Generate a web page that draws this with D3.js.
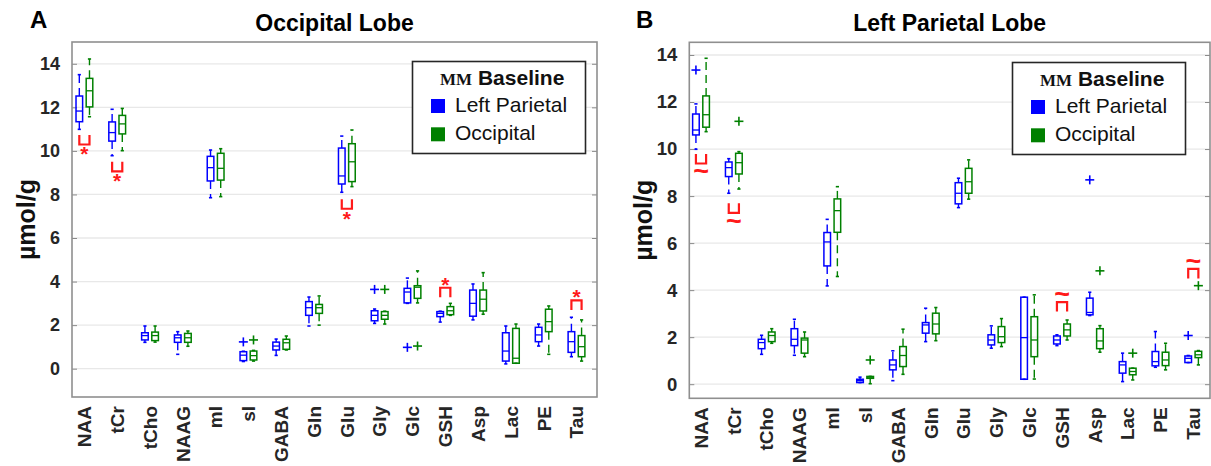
<!DOCTYPE html>
<html>
<head>
<meta charset="utf-8">
<script src="https://cdn.jsdelivr.net/npm/d3@7/dist/d3.min.js"></script>
<style>
  body { margin: 0; background: #fff; }
  svg { display: block; }
</style>
</head>
<body>
<svg id="chart" width="1211" height="466"></svg>
<script>
// Metabolite names along the x axis
const categories = ["NAA", "tCr", "tCho", "NAAG", "mI", "sI", "GABA", "Gln", "Glu",
                    "Gly", "Glc", "GSH", "Asp", "Lac", "PE", "Tau"];
const yTicks = [0, 2, 4, 6, 8, 10, 12, 14];
const seriesNames = ["Left Parietal", "Occipital"];

// Box statistics per metabolite: [lower whisker, Q1, median, Q3, upper whisker]
// Panel A: occipital lobe data, quantified with each macromolecule baseline
const occipitalWithLP = [
  [10.99, 11.34, 11.83, 12.52, 13.50],
  [9.78, 10.45, 10.84, 11.33, 11.91],
  [1.21, 1.32, 1.52, 1.65, 1.96],
  [0.66, 1.21, 1.42, 1.55, 1.70],
  [7.85, 8.62, 9.23, 9.75, 10.04],
  [0.33, 0.37, 0.62, 0.78, 0.80],
  [0.61, 0.86, 1.04, 1.22, 1.36],
  [1.96, 2.45, 2.80, 3.08, 3.29],
  [8.10, 8.48, 8.85, 10.13, 10.68],
  [2.08, 2.20, 2.45, 2.66, 2.74],
  [3.00, 3.02, 3.52, 3.69, 4.16],
  [2.14, 2.39, 2.54, 2.62, 2.64],
  [2.24, 2.41, 3.00, 3.61, 3.89],
  [0.22, 0.35, 0.81, 1.65, 1.96],
  [1.04, 1.24, 1.55, 1.90, 2.05],
  [0.55, 0.75, 1.24, 1.70, 2.36]
];
const occipitalWithOcc = [
  [11.57, 12.02, 12.76, 13.33, 14.22],
  [10.01, 10.78, 11.24, 11.63, 11.95],
  [1.22, 1.29, 1.52, 1.68, 1.96],
  [1.03, 1.21, 1.42, 1.62, 1.73],
  [7.90, 8.66, 9.20, 9.89, 10.10],
  [0.35, 0.40, 0.60, 0.81, 0.84],
  [0.86, 0.89, 1.19, 1.35, 1.50],
  [2.00, 2.54, 2.80, 2.95, 3.34],
  [8.36, 8.59, 9.50, 10.33, 10.96],
  [2.05, 2.27, 2.45, 2.62, 2.64],
  [3.02, 3.23, 3.74, 3.81, 4.49],
  [2.45, 2.48, 2.66, 2.85, 3.00],
  [2.50, 2.65, 3.19, 3.61, 4.41],
  [0.25, 0.25, 0.48, 1.85, 2.05],
  [0.66, 1.70, 2.16, 2.73, 2.88],
  [0.35, 0.55, 1.01, 1.52, 2.24]
];
// Outliers: [category index, value]
const occipitalOutliersLP = [[5, 1.23], [9, 3.64], [10, 0.98]];
const occipitalOutliersOcc = [[5, 1.32], [9, 3.64], [10, 1.04]];
// Significance markers: [category index, side, symbol, level]
const occipitalMarks = [
  [0, "below", "*", 10.73],
  [1, "below", "*", 9.50],
  [8, "below", "*", 7.78],
  [11, "above", "*", 3.28],
  [15, "above", "*", 2.70]
];

// Panel B: left parietal lobe data
const parietalWithLP = [
  [9.99, 10.60, 10.81, 11.49, 11.92],
  [8.12, 8.83, 9.21, 9.45, 9.59],
  [1.27, 1.51, 1.77, 1.91, 2.08],
  [1.23, 1.64, 1.91, 2.36, 2.76],
  [4.18, 5.03, 6.05, 6.45, 7.01],
  [0.07, 0.07, 0.15, 0.21, 0.30],
  [0.15, 0.61, 0.82, 1.03, 1.42],
  [1.81, 2.17, 2.52, 2.62, 3.23],
  [7.51, 7.67, 8.12, 8.57, 8.76],
  [1.53, 1.67, 1.88, 2.10, 2.48],
  [0.21, 0.21, 1.98, 3.70, 3.70],
  [1.64, 1.71, 1.88, 2.05, 2.10],
  [2.92, 2.95, 3.05, 3.66, 3.91],
  [0.11, 0.47, 0.82, 0.96, 1.32],
  [0.72, 0.78, 0.96, 1.39, 2.24],
  [0.92, 0.92, 1.10, 1.20, 1.22]
];
const parietalWithOcc = [
  [10.74, 10.93, 11.46, 12.26, 13.86],
  [8.30, 8.94, 9.42, 9.82, 9.89],
  [1.74, 1.81, 2.07, 2.22, 2.36],
  [1.17, 1.32, 1.88, 1.96, 2.22],
  [4.58, 6.46, 7.38, 7.88, 8.40],
  [0.02, 0.25, 0.30, 0.33, 0.33],
  [0.42, 0.75, 1.22, 1.60, 2.34],
  [1.85, 2.14, 2.56, 3.02, 3.26],
  [7.87, 8.12, 8.61, 9.18, 9.54],
  [1.60, 1.77, 2.02, 2.45, 2.79],
  [0.22, 1.17, 1.88, 2.87, 3.80],
  [1.88, 2.05, 2.31, 2.56, 2.73],
  [1.36, 1.51, 1.84, 2.36, 2.49],
  [0.18, 0.40, 0.54, 0.68, 0.68],
  [0.61, 0.79, 1.03, 1.36, 1.74],
  [0.82, 1.13, 1.25, 1.40, 1.43]
];
const parietalOutliersLP = [[0, 13.36], [12, 8.69], [15, 2.07]];
const parietalOutliersOcc = [[1, 11.18], [5, 1.03], [12, 4.82], [13, 1.32], [15, 4.19]];
const parietalMarks = [
  [0, "below", "~", 9.79],
  [1, "below", "~", 7.69],
  [11, "above", "~", 3.09],
  [15, "above", "~", 4.50]
];

const BLUE = "#0000ff";
const GREEN = "#008000";
const RED = "#ff1a1a";
const TEXT = "#262626";
const FONT = "'Liberation Sans', Arial, Helvetica, sans-serif";

const svg = d3.select("#chart");

function drawPanel(cfg) {
  const g = svg.append("g");
  const x = d3.scaleLinear().domain(cfg.xDomain).range([cfg.left, cfg.right]);
  const y = d3.scaleLinear().domain(cfg.yDomain).range([cfg.bottom, cfg.top]);
  const offset = 0.155;   // half distance between the paired boxes (category units)
  const halfBox = 3.3;    // px
  const halfCap = 1.6;    // px

  // grid lines
  g.append("g").selectAll("line").data(yTicks).join("line")
    .attr("x1", cfg.left).attr("x2", cfg.right)
    .attr("y1", d => y(d)).attr("y2", d => y(d))
    .attr("stroke", "#e8e8e8").attr("stroke-width", 1.3);

  // y axis (left) with inward ticks
  const axL = g.append("g").attr("transform", `translate(${cfg.left},0)`)
    .call(d3.axisLeft(y).tickValues(yTicks).tickSize(-5).tickPadding(12));
  axL.select(".domain").remove();
  axL.selectAll(".tick line").attr("stroke", "#8a8a8a").attr("stroke-width", 1);
  axL.selectAll(".tick text")
    .attr("font-family", FONT).attr("font-weight", "bold")
    .attr("font-size", cfg.tickFont).attr("fill", TEXT);

  // right-side inward ticks
  const axR = g.append("g").attr("transform", `translate(${cfg.right},0)`)
    .call(d3.axisRight(y).tickValues(yTicks).tickSize(-5).tickFormat(""));
  axR.select(".domain").remove();
  axR.selectAll(".tick line").attr("stroke", "#8a8a8a").attr("stroke-width", 1);

  // x category labels (rotated)
  const fx = cfg.xFont;
  g.append("g").selectAll("text").data(categories).join("text")
    .attr("transform", (d, i) => `translate(${x(i) + fx * 0.36},${cfg.bottom + 9}) rotate(-90)`)
    .attr("text-anchor", "end")
    .attr("font-family", FONT).attr("font-weight", "bold")
    .attr("font-size", fx).attr("fill", TEXT)
    .text(d => d);

  // box plots
  const groups = [
    { stats: cfg.lp, outliers: cfg.lpOut, color: BLUE, dx: -offset },
    { stats: cfg.occ, outliers: cfg.occOut, color: GREEN, dx: offset }
  ];
  groups.forEach(s => {
    const bg = g.append("g").attr("stroke", s.color).attr("fill", "none");
    const items = bg.selectAll("g.box").data(s.stats).join("g").attr("class", "box");
    const cx = (d, i) => x(i + s.dx);
    // whiskers
    items.append("line")
      .attr("x1", cx).attr("x2", cx)
      .attr("y1", d => y(d[3])).attr("y2", d => y(d[4]))
      .attr("stroke-width", 1.4).attr("stroke-dasharray", "8,5");
    items.append("line")
      .attr("x1", cx).attr("x2", cx)
      .attr("y1", d => y(d[1])).attr("y2", d => y(d[0]))
      .attr("stroke-width", 1.4).attr("stroke-dasharray", "8,5");
    // caps
    [0, 4].forEach(k => {
      items.append("line")
        .attr("x1", (d, i) => cx(d, i) - halfCap).attr("x2", (d, i) => cx(d, i) + halfCap)
        .attr("y1", d => y(d[k])).attr("y2", d => y(d[k]))
        .attr("stroke-width", 1.6);
    });
    // box
    items.append("rect")
      .attr("x", (d, i) => cx(d, i) - halfBox)
      .attr("width", halfBox * 2)
      .attr("y", d => y(d[3]))
      .attr("height", d => Math.max(0.5, y(d[1]) - y(d[3])))
      .attr("stroke-width", 1.5);
    // median
    items.append("line")
      .attr("x1", (d, i) => cx(d, i) - halfBox).attr("x2", (d, i) => cx(d, i) + halfBox)
      .attr("y1", d => y(d[2])).attr("y2", d => y(d[2]))
      .attr("stroke-width", 1.3);
    // outliers
    const o = bg.selectAll("g.out").data(s.outliers).join("g").attr("class", "out")
      .attr("transform", d => `translate(${x(d[0] + s.dx)},${y(d[1])})`);
    o.append("line").attr("x1", -4.5).attr("x2", 4.5).attr("stroke-width", 1.6);
    o.append("line").attr("y1", -4.5).attr("y2", 4.5).attr("stroke-width", 1.6);
  });

  // significance brackets
  const legLen = 9.5;
  cfg.marks.forEach(m => {
    const [i, side, sym, level] = m;
    const x1 = x(i - offset), x2 = x(i + offset);
    const y0 = y(level);
    const dir = side === "below" ? 1 : -1;
    const y1 = y0 + dir * legLen;
    g.append("path")
      .attr("d", `M${x1},${y0}V${y1}H${x2}V${y0}`)
      .attr("fill", "none").attr("stroke", RED).attr("stroke-width", 2.2);
    const symC = y1 + dir * (sym === "*" ? 6.5 : 8);
    const fs = sym === "*" ? 21 : 27;
    const lift = sym === "*" ? 0.5 * fs : 0.33 * fs;
    g.append("text")
      .attr("x", (x1 + x2) / 2).attr("y", symC + lift)
      .attr("text-anchor", "middle")
      .attr("font-family", FONT).attr("font-weight", "bold")
      .attr("font-size", fs).attr("fill", RED)
      .text(sym);
  });

  // frame
  g.append("rect")
    .attr("x", cfg.left).attr("y", cfg.top)
    .attr("width", cfg.right - cfg.left).attr("height", cfg.bottom - cfg.top)
    .attr("fill", "none").attr("stroke", "#8f8f8f").attr("stroke-width", 1.6);

  // legend
  const lg = g.append("g").attr("transform", `translate(${cfg.legendX},${cfg.legendY})`);
  lg.append("rect").attr("width", 173).attr("height", 92)
    .attr("fill", "#fff").attr("stroke", "#262626").attr("stroke-width", 1.6);
  const lt = lg.append("text").attr("x", 27.5).attr("y", 23.5)
    .attr("font-family", FONT).attr("font-weight", "bold").attr("fill", "#111");
  lt.append("tspan").attr("font-family", "'Liberation Serif', 'DejaVu Serif', serif")
    .attr("font-size", 17).text("MM");
  lt.append("tspan").attr("font-size", 21).text(" Baseline");
  [BLUE, GREEN].forEach((c, k) => {
    lg.append("rect").attr("x", 18.5).attr("y", 37.5 + k * 28.3)
      .attr("width", 14).attr("height", 14).attr("fill", c);
    lg.append("text").attr("x", 42.5).attr("y", 50.5 + k * 28.3)
      .attr("font-family", FONT).attr("font-size", 21).attr("fill", "#111")
      .text(seriesNames[k]);
  });

  // y label
  g.append("text")
    .attr("transform", `translate(${cfg.ylabelX},${(cfg.top + cfg.bottom) / 2}) rotate(-90)`)
    .attr("text-anchor", "middle")
    .attr("font-family", FONT).attr("font-weight", "bold")
    .attr("font-size", 25).attr("fill", "#111")
    .text("µmol/g");

  // title and panel letter
  g.append("text")
    .attr("x", (cfg.left + cfg.right) / 2).attr("y", 31)
    .attr("text-anchor", "middle")
    .attr("font-family", FONT).attr("font-weight", "bold")
    .attr("font-size", 23).attr("fill", "#000")
    .text(cfg.title);
  g.append("text")
    .attr("x", cfg.letterX).attr("y", 28)
    .attr("font-family", FONT).attr("font-weight", "bold")
    .attr("font-size", 24).attr("fill", "#000")
    .text(cfg.letter);
}

drawPanel({
  letter: "A", letterX: 30, title: "Occipital Lobe",
  left: 72, right: 597, top: 42, bottom: 397,
  xDomain: [-0.378, 15.625], yDomain: [-1.3, 15],
  tickFont: 18, xFont: 19, ylabelX: 35,
  lp: occipitalWithLP, occ: occipitalWithOcc,
  lpOut: occipitalOutliersLP, occOut: occipitalOutliersOcc,
  marks: occipitalMarks,
  legendX: 412.5, legendY: 61.5
});

drawPanel({
  letter: "B", letterX: 636, title: "Left Parietal Lobe",
  left: 689.3, right: 1210, top: 42.3, bottom: 398.3,
  xDomain: [-0.357, 15.509], yDomain: [-0.6, 14.54],
  tickFont: 18.5, xFont: 19, ylabelX: 652,
  lp: parietalWithLP, occ: parietalWithOcc,
  lpOut: parietalOutliersLP, occOut: parietalOutliersOcc,
  marks: parietalMarks,
  legendX: 1012.5, legendY: 62.5
});
</script>
</body>
</html>
